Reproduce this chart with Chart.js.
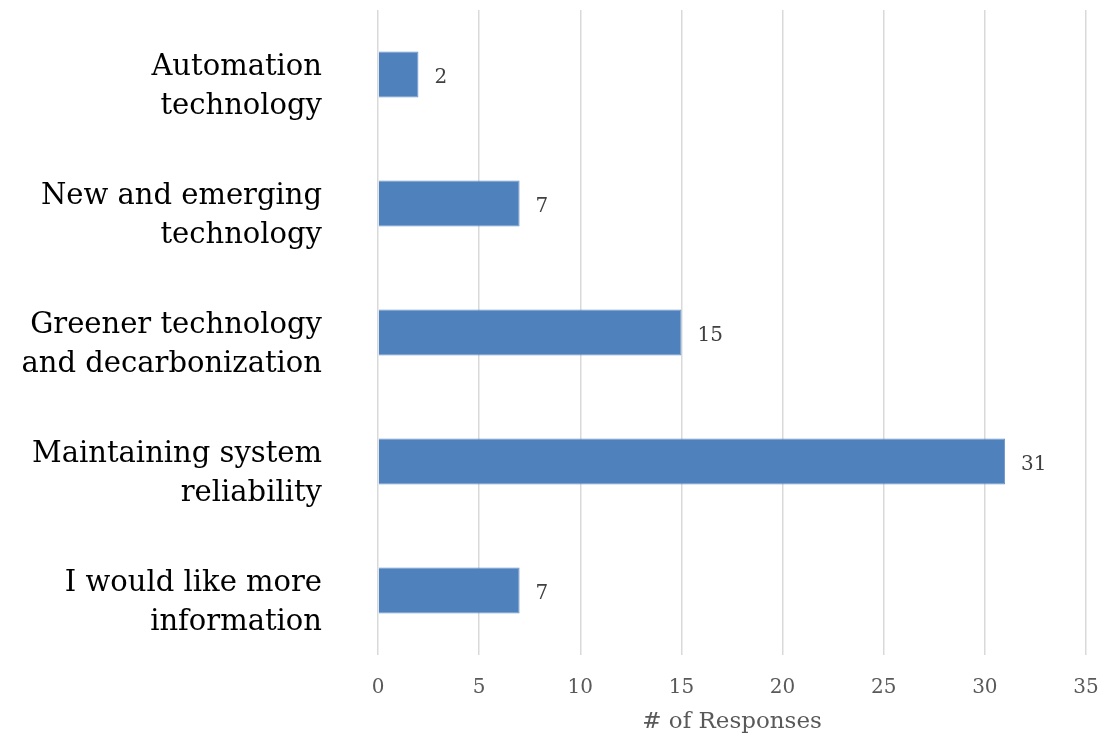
<!DOCTYPE html>
<html>
<head>
<meta charset="utf-8">
<script src="https://cdn.jsdelivr.net/npm/chart.js@4"></script>
<style>
  html, body { margin: 0; padding: 0; background: #fff; }
  #wrap { width: 1114px; height: 738px; position: relative; }
</style>
</head>
<body>
<div id="wrap"><canvas id="respChart"></canvas></div>
<script>
const categories = [
    ['Automation', 'technology'],
    ['New and emerging', 'technology'],
    ['Greener technology', 'and decarbonization'],
    ['Maintaining system', 'reliability'],
    ['I would like more', 'information']
];
const responses = [2, 7, 15, 31, 7];
const xTicks = [0, 5, 10, 15, 20, 25, 30, 35];
const xTitle = '# of Responses';

const SERIF = '"DejaVu Serif", serif';

// simple value labels at the end of each bar
const barValueLabels = {
    id: 'barValueLabels',
    afterDatasetsDraw(chart) {
        const ctx = chart.ctx;
        const meta = chart.getDatasetMeta(0);
        ctx.save();
        ctx.font = '20px ' + SERIF;
        ctx.fillStyle = '#404040';
        ctx.textAlign = 'left';
        ctx.textBaseline = 'middle';
        meta.data.forEach((bar, i) => {
            ctx.fillText(String(responses[i]), bar.x + 16, bar.y + 3);
        });
        ctx.restore();
    }
};

new Chart(document.getElementById('respChart').getContext('2d'), {
    type: 'bar',
    data: {
        labels: categories,
        datasets: [{
            label: xTitle,
            data: responses,
            backgroundColor: '#4F81BD',
            borderColor: '#6a95cb',
            borderWidth: 1,
            barPercentage: 0.357,
            categoryPercentage: 1
        }]
    },
    options: {
        indexAxis: 'y',
        responsive: true,
        maintainAspectRatio: false,
        animation: false,
        layout: { padding: { top: 10, right: 28, left: 0, bottom: 0 } },
        plugins: {
            legend: { display: false },
            tooltip: { enabled: false }
        },
        scales: {
            x: {
                min: 0,
                max: 35,
                afterBuildTicks: s => { s.ticks = xTicks.map(v => ({ value: v })); },
                afterFit: s => {
                    s.height = 83;
                    s.paddingLeft = 0;
                    s.paddingRight = 0;
                },
                grid: { color: '#d9d9d9', lineWidth: 1.5, drawTicks: false },
                border: { display: false },
                ticks: {
                    padding: 21,
                    color: '#595959',
                    font: { family: SERIF, size: 20 }
                },
                title: {
                    display: true,
                    text: xTitle,
                    color: '#595959',
                    font: { family: SERIF, size: 23 },
                    padding: { top: 0, bottom: 2 }
                }
            },
            y: {
                afterFit: s => {
                    s.width = 378;
                    // the big label gap should not eat vertical space
                    s.paddingTop = 0;
                    s.paddingBottom = 0;
                },
                grid: { display: false, drawTicks: false },
                border: { display: false },
                ticks: {
                    padding: 56,
                    labelOffset: 12,
                    color: '#000000',
                    font: { family: SERIF, size: 29, lineHeight: 1.345 }
                }
            }
        }
    },
    plugins: [barValueLabels]
});
</script>
</body>
</html>
